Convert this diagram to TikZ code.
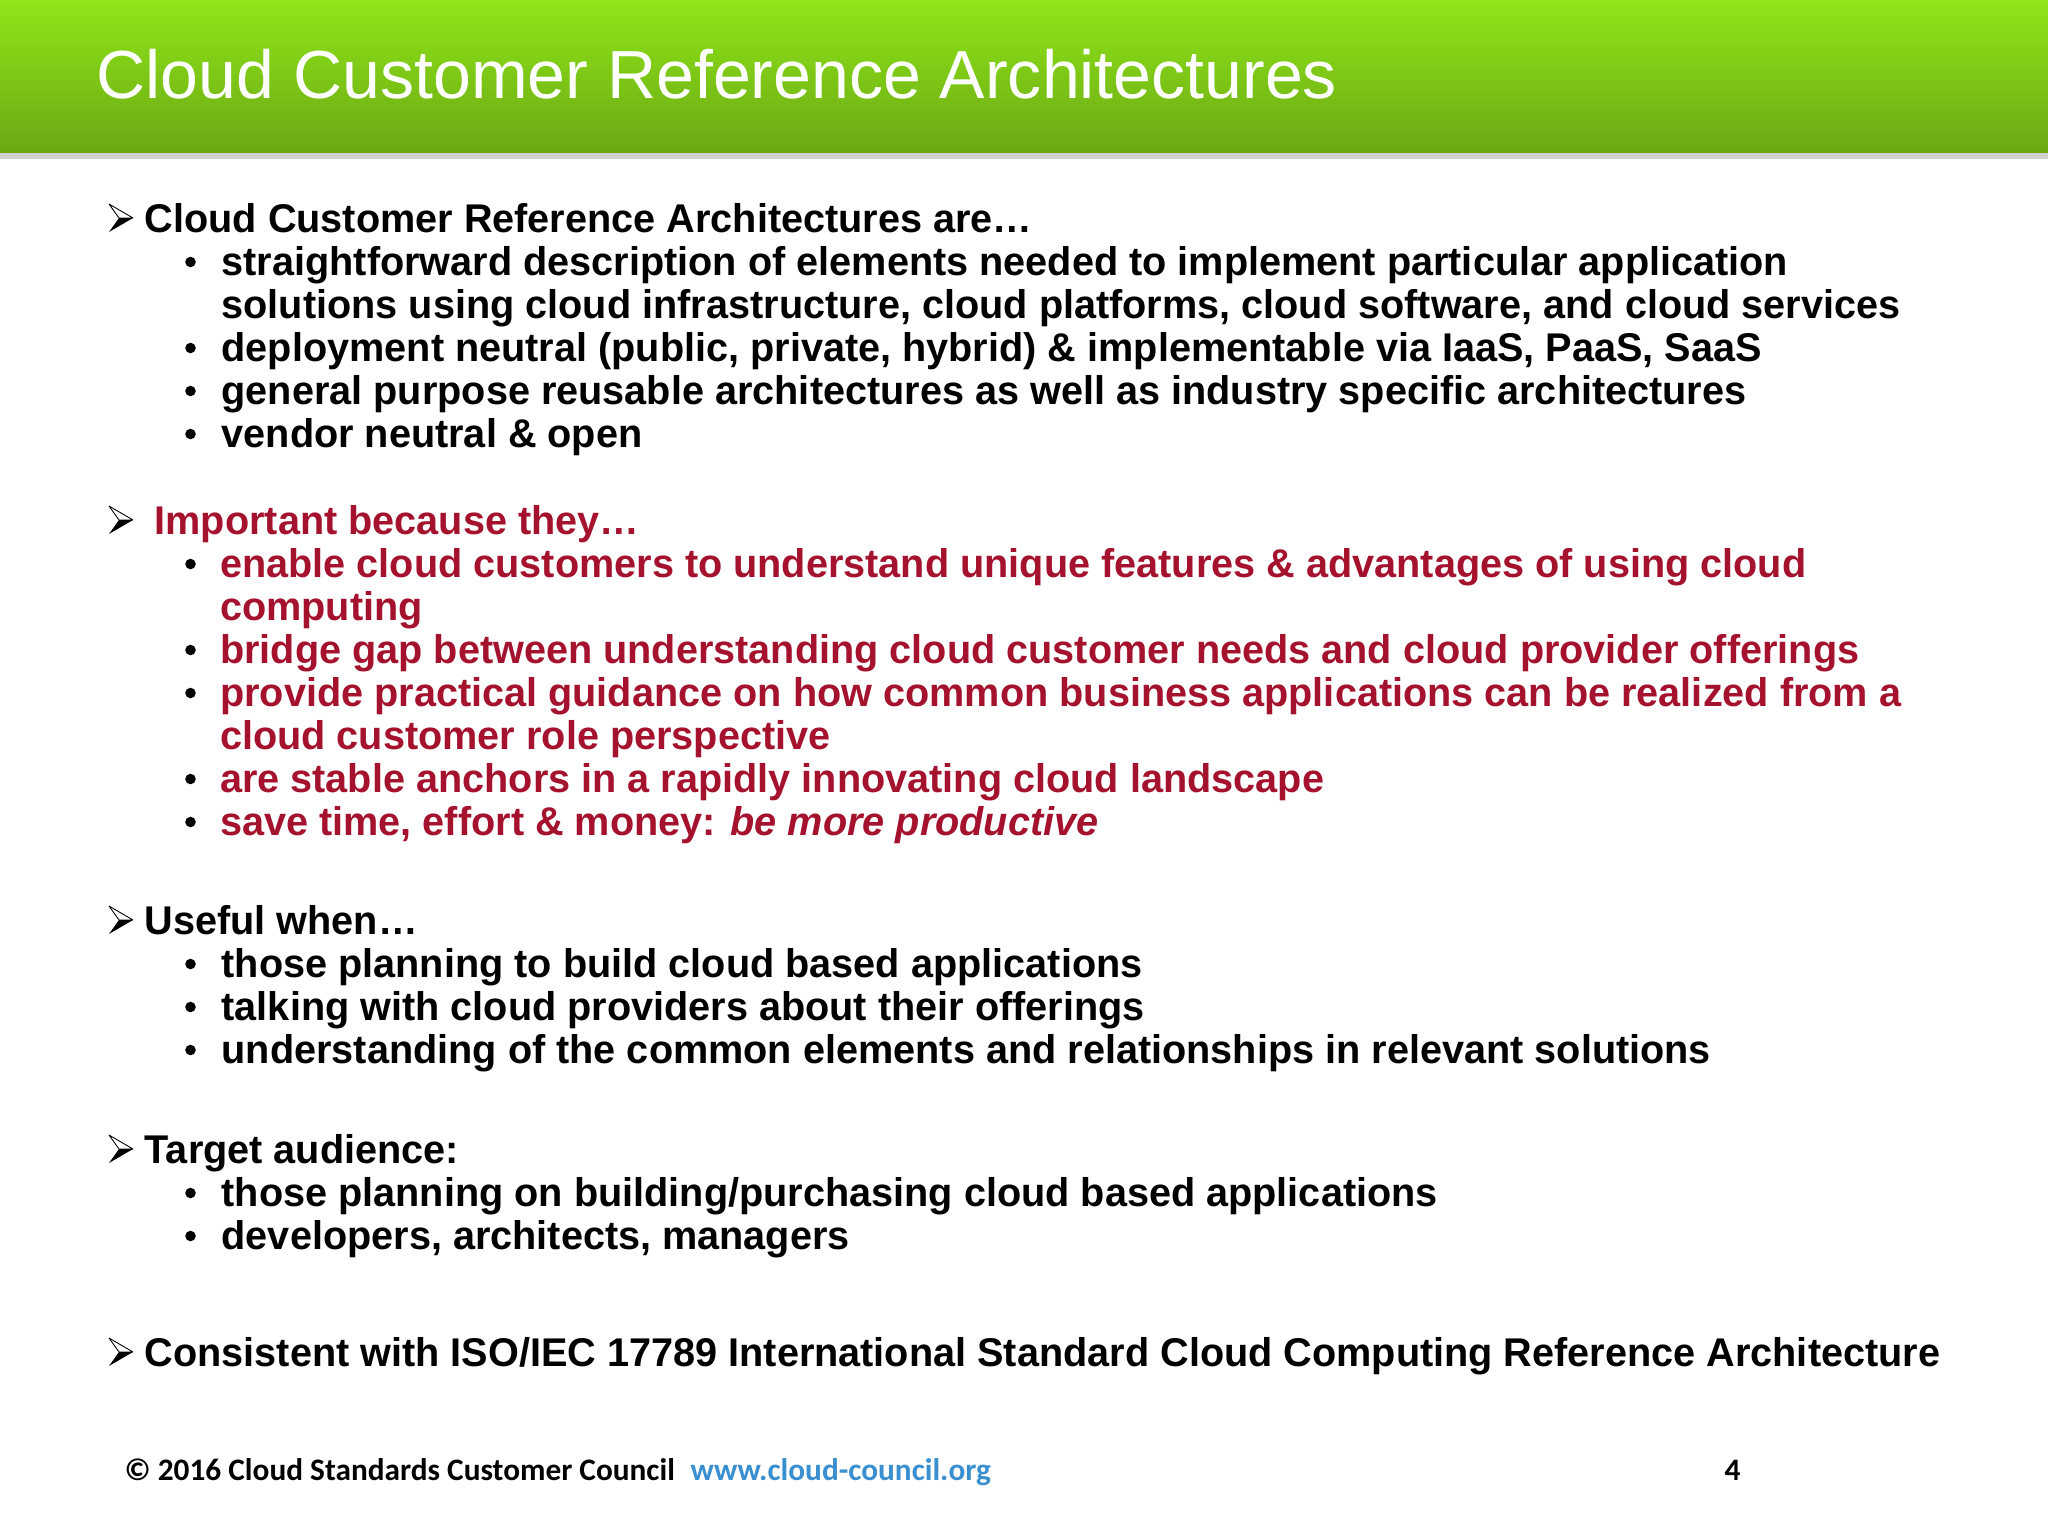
\documentclass[tikz,border=0pt]{standalone}
\usepackage{fontspec}
\setmainfont{Liberation Sans}
\newfontfamily\itemfont[FakeStretch=0.989]{Liberation Sans}
\newfontfamily\footfont{Carlito}
\definecolor{headtop}{HTML}{8FE619}
\definecolor{headmid}{HTML}{7FCC17}
\definecolor{headbot}{HTML}{6BA814}
\definecolor{headline}{HTML}{CFD2CC}
\definecolor{redtext}{HTML}{A5122E}
\definecolor{urlblue}{HTML}{3A8FD0}
\tikzset{
  item/.style={anchor=base west,inner sep=0pt,font=\fontsize{11.4}{13}\selectfont\itemfont\bfseries},
  reditem/.style={item,text=redtext},
  dot/.style={circle,fill=black,inner sep=0pt,minimum size=3pt},
  foot/.style={anchor=base west,inner sep=0pt,font=\fontsize{8.9}{10}\selectfont\footfont\bfseries},
  pics/pointer/.style={code={
    \draw [fill=white,line width=0.25pt,line join=bevel] (-14,0) -- (-24,-14) -- (0,0) -- cycle;
    \fill [black] (-14,0) -- (-24,14) -- (0,0) -- cycle;
  }}
}
\begin{document}
\begin{tikzpicture}[x=0.01cm,y=-0.01cm]
  \useasboundingbox (0,0) rectangle (2048,1536);

  \shade [top color=headtop,middle color=headmid,bottom color=headbot] (0,0) rectangle (2048,153);
  \fill [headline] (0,153) rectangle (2048,159);

  \node (title) [anchor=base west,inner sep=0pt,text=white,font=\fontsize{19.35}{22}\selectfont] at (96,98) {Cloud Customer Reference Architectures};

  % section heads
  \foreach \y in {232,534,934,1163,1366} {
    \pic at (133,\y-14) {pointer};
  }
  \foreach \n/\y/\t in {
    a/232/{Cloud Customer Reference Architectures are…},
    c/934/{Useful when…},
    d/1163/{Target audience:},
    e/1366/{Consistent with ISO/IEC 17789 International Standard Cloud Computing Reference Architecture}} {
    \node (head\n) [item] at (144,\y) {\t};
  }
  \node (headb) [reditem] at (154,534) {Important because they…};

  % black lines
  \foreach \n/\y/\t in {
    1/275/{straightforward description of elements needed to implement particular application},
    2/318/{solutions using cloud infrastructure, cloud platforms, cloud software, and cloud services},
    3/361/{deployment neutral (public, private, hybrid) \& implementable via IaaS, PaaS, SaaS},
    4/404/{general purpose reusable architectures as well as industry specific architectures},
    5/447/{vendor neutral \& open},
    6/977/{those planning to build cloud based applications},
    7/1020/{talking with cloud providers about their offerings},
    8/1063/{understanding of the common elements and relationships in relevant solutions},
    9/1206/{those planning on building/purchasing cloud based applications},
    10/1249/{developers, architects, managers}} {
    \node (line\n) [item] at (221,\y) {\t};
  }

  % red lines
  \foreach \n/\y/\t in {
    1/577/{enable cloud customers to understand unique features \& advantages of using cloud},
    2/620/{computing},
    3/663/{bridge gap between understanding cloud customer needs and cloud provider offerings},
    4/706/{provide practical guidance on how common business applications can be realized from a},
    5/749/{cloud customer role perspective},
    6/792/{are stable anchors in a rapidly innovating cloud landscape},
    7/835/{save time, effort \& money: \textit{be more productive}}} {
    \node (red\n) [reditem] at (219.5,\y) {\t};
  }

  % bullets
  \foreach \y in {275,361,404,447,577,663,706,792,835,977,1020,1063,1206,1249} {
    \node (dot\y) [dot] at (190.5,\y-13) {};
  }

  \node (copy) [foot] at (124,1480) {© 2016 Cloud Standards Customer Council};
  \node (url) [foot,text=urlblue] at (690,1480) {www.cloud-council.org};
  \node (page) [foot] at (1724,1480) {4};
\end{tikzpicture}
\end{document}
